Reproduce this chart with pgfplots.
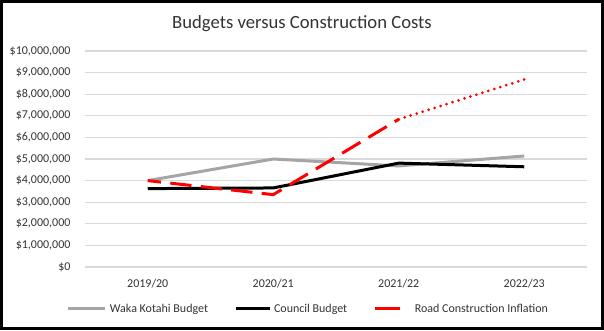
\documentclass[border=0pt]{standalone}
\usepackage{pgfplots}
\pgfplotsset{compat=1.18}
\usepackage{fontspec}
\setmainfont{Carlito}
\definecolor{gridc}{HTML}{D9D9D9}
\definecolor{wakac}{HTML}{A5A5A5}
\definecolor{txt}{HTML}{333333}
\begin{document}
\begin{tikzpicture}
\draw[line width=2.5pt] (1.25pt,1.25pt) rectangle (451.75pt,246.25pt);
\node[font=\fontsize{14pt}{16pt}\selectfont, text=txt] at (226.5pt,229.5pt) {Budgets versus Construction Costs};
\begin{axis}[
  at={(63.75pt,47.25pt)}, anchor=south west,
  scale only axis, width=376.5pt, height=162pt,
  xmin=-0.5, xmax=3.5, ymin=0, ymax=10000000,
  axis line style={draw=none},
  ymajorgrids, grid style={gridc, line width=0.9pt},
  xtick={0,1,2,3}, xticklabels={2019/20,2020/21,2021/22,2022/23},
  ytick={0,1000000,2000000,3000000,4000000,5000000,6000000,7000000,8000000,9000000,10000000},
  yticklabels={{\$0},{\$1,000,000},{\$2,000,000},{\$3,000,000},{\$4,000,000},{\$5,000,000},{\$6,000,000},{\$7,000,000},{\$8,000,000},{\$9,000,000},{\$10,000,000}},
  scaled y ticks=false,
  tick label style={font=\fontsize{9pt}{11pt}\selectfont, text=txt},
  yticklabel style={anchor=east, inner sep=0pt, xshift=-10.7pt},
  xticklabel style={anchor=base, inner sep=0pt, yshift=-15pt},
  major tick length=0pt,
  clip=false,
  legend columns=3,
  legend style={at={(-0.0359,-0.1944)}, anchor=west, draw=none, fill=none,
    inner sep=0pt, outer sep=0pt, nodes={inner sep=0pt},
    font=\fontsize{9pt}{11pt}\selectfont, text=txt,
    /tikz/every odd column/.append style={column sep=2.25pt},
    /tikz/every even column/.append style={column sep=19.5pt}},
  legend cell align=left,
]
\addplot[wakac, line width=2.25pt, legend image code/.code={\draw[wakac, line width=2.25pt] (0pt,0pt) -- (27.75pt,0pt);}] coordinates {(0,4000000) (1,5000000) (2,4680000) (3,5140000)};
\addlegendentry{Waka Kotahi Budget}
\addplot[black, line width=2.25pt, legend image code/.code={\draw[black, line width=2.25pt] (0pt,0pt) -- (25.5pt,0pt);}] coordinates {(0,3630000) (1,3660000) (2,4810000) (3,4640000)};
\addlegendentry{Council Budget}
\addplot[red, line width=2.25pt, dash pattern=on 16pt off 7pt, dash phase=6pt, legend image code/.code={\draw[red, solid, line width=2.25pt] (0pt,0pt) -- (18.75pt,0pt); \path[draw=none] (18.75pt,0pt) -- (27.75pt,0pt);}] coordinates {(0,4000000) (1,3350000) (2,6840000)};
\addlegendentry{Road Construction Inflation}
\addplot[red, line width=2.25pt, line cap=round, dash pattern=on 0pt off 4.7pt, forget plot] coordinates {(2,6840000) (3,8680000)};
\end{axis}
\end{tikzpicture}
\end{document}
